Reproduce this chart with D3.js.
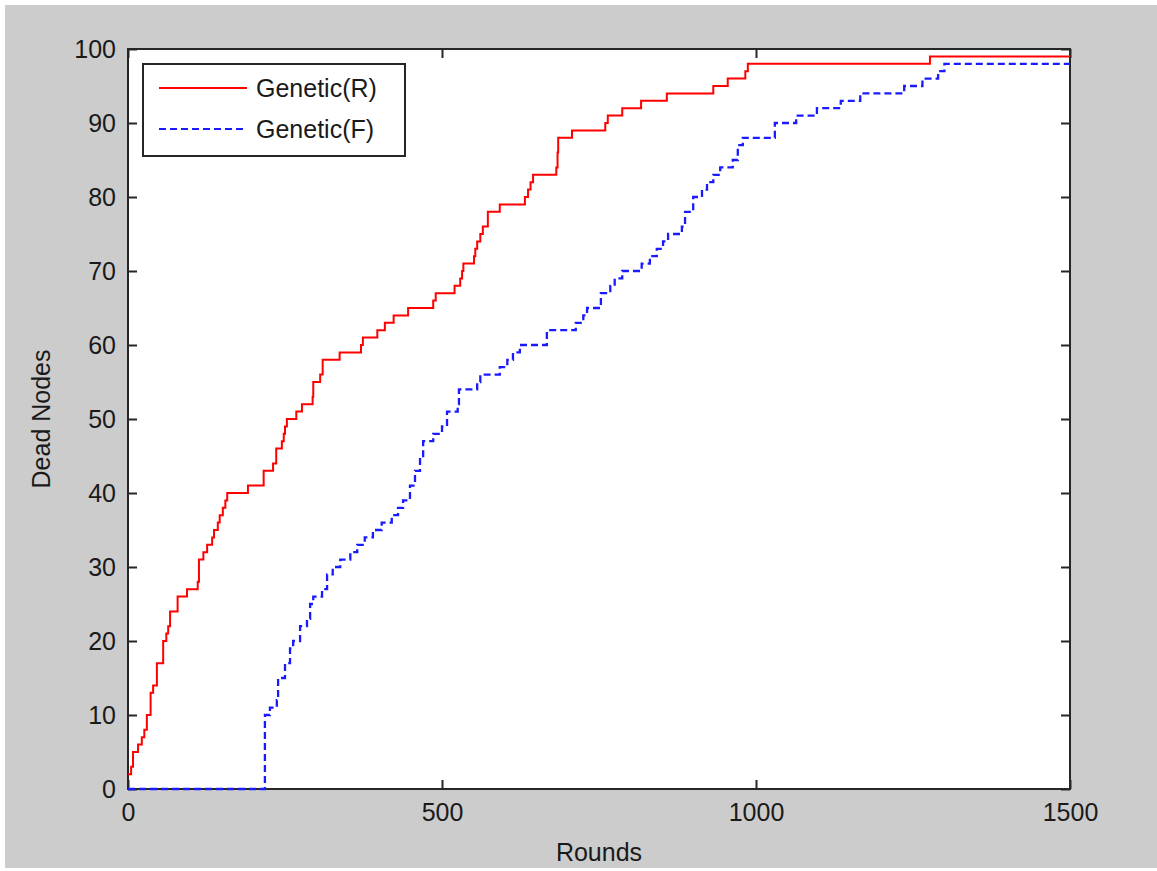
<!DOCTYPE html>
<html>
<head>
<meta charset="utf-8">
<script src="https://cdn.jsdelivr.net/npm/d3@7"></script>
<style>
  body { margin: 0; background: #fff; }
  text { font-family: "Liberation Sans", Arial, sans-serif; fill: #1a1a1a; }
</style>
</head>
<body>
<div id="chart"></div>
<script>
// step points: round where the count changes, and the new dead-node count
var roundsR = [0, 5, 8, 16, 22, 26, 30, 36, 40, 46, 56, 61, 64, 67, 79, 94, 111, 113, 120, 126,
  134, 137, 143, 146, 151, 155, 158, 191, 216, 231, 236, 245, 248, 250, 253, 268, 277, 294, 295, 306,
  310, 337, 371, 374, 397, 409, 423, 446, 486, 490, 520, 529, 532, 534, 551, 553, 556, 561, 565, 573,
  592, 632, 637, 641, 645, 682, 684, 685, 707, 760, 764, 787, 817, 858, 932, 955, 983, 987, 1277, 1500]
var deadR = [2, 3, 5, 6, 7, 8, 10, 13, 14, 17, 20, 21, 22, 24, 26, 27, 28, 31, 32, 33,
  34, 35, 36, 37, 38, 39, 40, 41, 43, 44, 46, 47, 48, 49, 50, 51, 52, 53, 55, 56,
  58, 59, 60, 61, 62, 63, 64, 65, 66, 67, 68, 69, 70, 71, 72, 73, 74, 75, 76, 78,
  79, 80, 81, 82, 83, 84, 86, 88, 89, 90, 91, 92, 93, 94, 95, 96, 97, 98, 99, 99]

var roundsF = [0, 218, 226, 237, 239, 250, 258, 263, 274, 285, 290, 295, 309, 317, 326, 338, 354, 365, 377, 390,
  404, 420, 430, 438, 449, 457, 465, 470, 486, 500, 508, 525, 527, 556, 561, 592, 604, 613, 624, 667,
  713, 725, 731, 753, 768, 775, 787, 818, 831, 842, 852, 860, 882, 887, 900, 914, 922, 932, 943, 963,
  971, 979, 1030, 1064, 1097, 1135, 1166, 1236, 1265, 1290, 1300, 1500]
var deadF = [0, 10, 11, 12, 15, 17, 19, 20, 22, 23, 25, 26, 27, 29, 30, 31, 32, 33, 34, 35,
  36, 37, 38, 39, 41, 43, 45, 47, 48, 49, 51, 52, 54, 55, 56, 57, 58, 59, 60, 62,
  63, 64, 65, 67, 68, 69, 70, 71, 72, 73, 74, 75, 76, 78, 80, 81, 82, 83, 84, 85,
  87, 88, 90, 91, 92, 93, 94, 95, 96, 97, 98, 98]

var xTicks = [0, 500, 1000, 1500]
var yTicks = [0, 10, 20, 30, 40, 50, 60, 70, 80, 90, 100]
var seriesNames = ['Genetic(R)', 'Genetic(F)']

var W = 1157, H = 871
var margin = {left: 128, right: 87, top: 49, bottom: 82}
var width = W - margin.left - margin.right
var height = H - margin.top - margin.bottom

var svg = d3.select('#chart').append('svg').attr('width', W).attr('height', H)

svg.append('rect').attr('x', 5).attr('y', 5).attr('width', W - 5).attr('height', H - 8).attr('fill', '#cccccc')

var g = svg.append('g').attr('transform', 'translate(' + margin.left + ',' + margin.top + ')')

g.append('rect').attr('width', width).attr('height', height).attr('fill', '#fff')

var x = d3.scaleLinear().domain([0, 1500]).range([0, width])
var y = d3.scaleLinear().domain([0, 100]).range([height, 0])

g.append('clipPath').attr('id', 'clip').append('rect')
  .attr('x', -2).attr('y', -2).attr('width', width + 4).attr('height', height + 4)

var line = d3.line()
  .x(function(d){ return x(d[0]) })
  .y(function(d){ return y(d[1]) })
  .curve(d3.curveStepAfter)

var red = roundsR.map(function(r, i){ return [r, deadR[i]] })
var blue = roundsF.map(function(r, i){ return [r, deadF[i]] })

// axes: ticks inside, on all four sides
var fontSize = 25
var tickLen = 9

var xAxis = g.append('g').attr('transform', 'translate(0,' + height + ')')
  .call(d3.axisBottom(x).tickValues(xTicks).tickSize(-tickLen).tickPadding(14).tickFormat(d3.format('d')))
var xTop = g.append('g')
  .call(d3.axisTop(x).tickValues(xTicks).tickSize(-tickLen).tickFormat(''))
var yAxis = g.append('g')
  .call(d3.axisLeft(y).tickValues(yTicks).tickSize(-tickLen).tickPadding(12).tickFormat(d3.format('d')))
var yRight = g.append('g').attr('transform', 'translate(' + width + ',0)')
  .call(d3.axisRight(y).tickValues(yTicks).tickSize(-tickLen).tickFormat(''))

;[xAxis, xTop, yAxis, yRight].forEach(function(a){
  a.select('.domain').remove()
  a.selectAll('line').attr('stroke', '#262626').attr('stroke-width', 2)
  a.selectAll('text').attr('font-size', fontSize).attr('font-family', null).attr('fill', '#1a1a1a')
})
xAxis.selectAll('text').attr('dy', '0.71em')

g.append('rect').attr('width', width).attr('height', height)
  .attr('fill', 'none').attr('stroke', '#262626').attr('stroke-width', 2)

// data lines sit on top of the frame, as in the original
var lines = g.append('g').attr('clip-path', 'url(#clip)')
lines.append('path').attr('d', line(red))
  .attr('fill', 'none').attr('stroke', '#ff0000').attr('stroke-width', 2)
lines.append('path').attr('d', line(blue))
  .attr('fill', 'none').attr('stroke', '#1a1aff').attr('stroke-width', 2.3)
  .attr('stroke-dasharray', '7,4')

g.append('text').attr('x', width / 2).attr('y', height + 72)
  .attr('text-anchor', 'middle').attr('font-size', fontSize).text('Rounds')

g.append('text')
  .attr('transform', 'translate(' + (-78) + ',' + (height / 2) + ') rotate(-90)')
  .attr('text-anchor', 'middle').attr('font-size', fontSize).text('Dead Nodes')

// legend
var leg = g.append('g').attr('transform', 'translate(15,15)')
leg.append('rect').attr('width', 262).attr('height', 92)
  .attr('fill', '#fff').attr('stroke', '#262626').attr('stroke-width', 2)

var legStyle = [{color: '#ff0000', dash: null}, {color: '#1a1aff', dash: '7,4'}]
seriesNames.forEach(function(name, i){
  var yy = 24 + i * 41
  leg.append('line').attr('x1', 16).attr('x2', 104).attr('y1', yy).attr('y2', yy)
    .attr('stroke', legStyle[i].color).attr('stroke-width', 2)
    .attr('stroke-dasharray', legStyle[i].dash)
  leg.append('text').attr('x', 113).attr('y', yy).attr('dy', '0.35em')
    .attr('font-size', fontSize).text(name)
})
</script>
</body>
</html>
